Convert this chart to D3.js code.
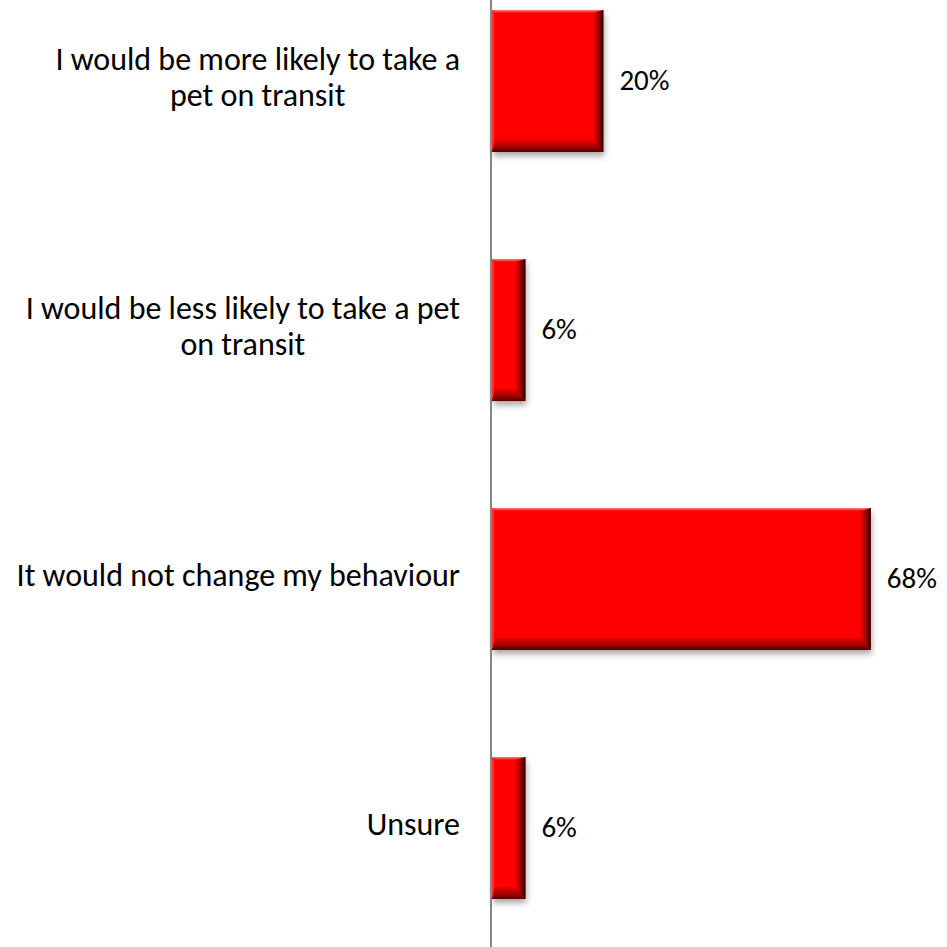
<!DOCTYPE html>
<html>
<head>
<meta charset="utf-8">
<script src="https://cdn.jsdelivr.net/npm/d3@7"></script>
<style>
  html, body { margin: 0; padding: 0; background: #fff; }
  svg { display: block; }
  text { font-family: Carlito, "Open Sans", Lato, sans-serif; fill: #000; }
</style>
</head>
<body>
<svg id="chart" width="947" height="947"></svg>
<script>
// Survey responses
const categories = [
  "I would be more likely to take a pet on transit",
  "I would be less likely to take a pet on transit",
  "It would not change my behaviour",
  "Unsure"
];
const labelLines = [
  ["I would be more likely to take a", "pet on transit"],
  ["I would be less likely to take a pet", "on transit"],
  ["It would not change my behaviour"],
  ["Unsure"]
];
const values = [0.20, 0.06, 0.68, 0.06];

const W = 947, H = 947;
const svg = d3.select("#chart");
const fontSize = 32;
const valueFontSize = 29;

const x = d3.scaleLinear().domain([0, 1]).range([492, 492 + 557]);
const y = d3.scaleBand().domain(categories)
  .range([-43.5, 952.5]).paddingInner(0.43).paddingOuter(0.215);

const defs = svg.append("defs");
const shadow = defs.append("filter").attr("id", "shadow")
  .attr("x", "-10%").attr("y", "-10%").attr("width", "130%").attr("height", "130%");
shadow.append("feDropShadow").attr("dx", 1).attr("dy", 4)
  .attr("stdDeviation", 3).attr("flood-color", "#000").attr("flood-opacity", 0.35);

function grad(id, x1, y1, x2, y2, stops) {
  const g = defs.append("linearGradient").attr("id", id)
    .attr("x1", x1).attr("y1", y1).attr("x2", x2).attr("y2", y2);
  stops.forEach(([o, c]) => g.append("stop").attr("offset", o).attr("stop-color", c));
}
grad("bevRight", 0, 0, 1, 0, [[0, "#f00000"], [0.6, "#900000"], [1, "#200000"]]);
grad("bevBottom", 0, 0, 0, 1, [[0, "#e80000"], [0.6, "#a00000"], [1, "#500000"]]);
grad("bevTop", 0, 0, 0, 1, [[0, "#ff8080"], [1, "#ff0000"]]);
grad("bevLeft", 0, 0, 1, 0, [[0, "#ff4040"], [1, "#ff0000"]]);

const bars = svg.append("g").selectAll("g").data(categories).join("g");

bars.each(function(c, i) {
  const g = d3.select(this);
  const x0 = x(0), x1 = x(values[i]);
  const y0 = y(c), y1 = y(c) + y.bandwidth();
  const br = Math.min(10, (x1 - x0) / 3), bb = 12, bt = 3, bl = 3;
  g.append("rect").attr("x", x0).attr("y", y0)
    .attr("width", x1 - x0).attr("height", y1 - y0)
    .attr("fill", "#ff0000").attr("filter", "url(#shadow)");
  const poly = (pts, fill) => g.append("polygon")
    .attr("points", pts.map(p => p.join(",")).join(" ")).attr("fill", fill);
  poly([[x0, y0], [x1, y0], [x1 - br, y0 + bt], [x0 + bl, y0 + bt]], "url(#bevTop)");
  poly([[x0, y0], [x0 + bl, y0 + bt], [x0 + bl, y1 - bb], [x0, y1]], "url(#bevLeft)");
  poly([[x0, y1], [x0 + bl, y1 - bb], [x1 - br, y1 - bb], [x1, y1]], "url(#bevBottom)");
  poly([[x1, y0], [x1, y1], [x1 - br, y1 - bb], [x1 - br, y0 + bt]], "url(#bevRight)");
});

// Value labels
svg.append("g").selectAll("text").data(categories).join("text")
  .attr("x", (c, i) => x(values[i]) + 16)
  .attr("y", c => y(c) + y.bandwidth() / 2 + 9)
  .attr("font-size", valueFontSize)
  .text((c, i) => d3.format(".0%")(values[i]));

// Category labels: block right-aligned, lines centred within the block
const lineH = 36;
const labelG = svg.append("g");
categories.forEach((c, i) => {
  const lines = labelLines[i];
  const cy = y(c) + y.bandwidth() / 2;
  const t = labelG.append("text").attr("font-size", fontSize).attr("text-anchor", "middle");
  const spans = lines.map((s, k) => t.append("tspan").text(s)
    .attr("y", cy + 7 + (k - (lines.length - 1) / 2) * lineH));
  const maxW = d3.max(spans, s => s.node().getComputedTextLength());
  spans.forEach(s => s.attr("x", 460 - maxW / 2));
});

// Category axis line
svg.append("line").attr("x1", 491).attr("x2", 491).attr("y1", 0).attr("y2", H)
  .attr("stroke", "#868686").attr("stroke-width", 2);
</script>
</body>
</html>
